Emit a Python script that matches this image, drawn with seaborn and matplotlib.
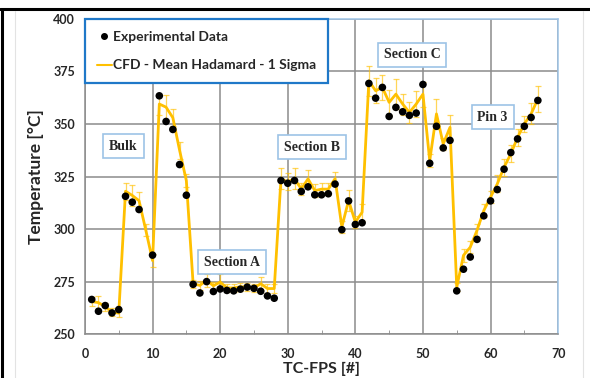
import matplotlib
matplotlib.use("Agg")
import matplotlib.pyplot as plt
import numpy as np
import pandas as pd
import seaborn as sns
from matplotlib.lines import Line2D
from matplotlib.ticker import MultipleLocator

# thermocouple index along the FPS
tc_index = list(range(1, 68))

# measured temperatures (no reading at TC 9)
exp_temp = [
    266.5, 260.9, 263.6, 260.1, 261.7, 315.6, 312.8, 309.3, np.nan, 287.6,
    363.4, 351.2, 347.4, 330.7, 316.1, 273.7, 269.6, 275.0, 270.3, 271.5,
    270.8, 270.6, 271.4, 272.4, 271.8, 270.4, 268.2, 267.1, 323.1, 321.8,
    323.1, 317.9, 320.1, 316.3, 316.3, 316.8, 321.4, 299.7, 313.4, 302.2,
    303.0, 369.3, 362.3, 367.4, 353.6, 357.9, 355.8, 354.1, 355.2, 368.8,
    331.3, 348.9, 338.6, 342.2, 270.6, 280.9, 286.7, 295.1, 306.3, 313.4,
    318.8, 328.5, 336.4, 342.9, 348.9, 353.1, 361.2,
]

# CFD mean (Hadamard) and 1 sigma
cfd_mean = [
    265.5, 265.0, 263.0, 260.5, 260.0, 318.0, 316.0, 313.5, 299.5, 285.0,
    359.5, 358.0, 353.0, 337.5, 323.0, 274.0, 273.2, 275.6, 273.0, 274.8,
    272.0, 272.0, 272.5, 272.5, 272.0, 274.0, 271.7, 271.7, 323.9, 322.5,
    323.9, 319.1, 323.9, 318.3, 319.0, 319.0, 324.0, 301.0, 313.6, 303.3,
    308.0, 370.5, 365.8, 367.4, 360.3, 364.2, 359.5, 355.5, 359.5, 364.2,
    332.6, 354.8, 340.5, 348.4, 272.4, 287.5, 291.4, 299.4, 308.8, 315.2,
    321.5, 329.4, 335.8, 343.6, 350.0, 354.8, 361.9,
]
cfd_sigma = [
    2, 3, 2, 2, 2, 4, 5, 4, 3, 3,
    5, 6, 4, 4, 3, 2, 2, 3, 2, 4,
    2, 2, 2, 2, 2, 3, 2, 2, 5, 4,
    5, 3, 4, 3, 3, 3, 3, 3, 5, 3,
    4, 7, 6, 6, 6, 7, 5, 5, 6, 6,
    3, 7, 3, 6, 2, 3, 3, 3, 3, 3,
    4, 4, 4, 4, 4, 5, 6,
]

# region labels and where they sit (data coords)
region_names = ["Bulk", "Section A", "Section B", "Section C", "Pin 3"]
region_x = [5.7, 21.8, 33.6, 48.4, 60.3]
region_y = [339.5, 284.3, 339.0, 382.9, 353.3]


def main() -> None:
    sns.set_style("white")
    plt.rcParams["font.family"] = ["Lato", "DejaVu Sans"]

    df = pd.DataFrame({
        "tc": tc_index,
        "exp": exp_temp,
        "cfd": cfd_mean,
        "sigma": cfd_sigma,
    })

    gold = "#FFC000"
    fig, ax = plt.subplots(figsize=(5.9, 3.78), dpi=100)
    fig.subplots_adjust(left=0.144, right=0.946, top=0.95, bottom=0.116)

    # CFD band as error bars + line
    ax.errorbar(df["tc"], df["cfd"], yerr=df["sigma"], fmt="none",
                ecolor=gold, alpha=0.65, elinewidth=0.9, capsize=2, capthick=0.9, zorder=2)
    sns.lineplot(data=df, x="tc", y="cfd", color=gold, linewidth=2, ax=ax, zorder=2)
    sns.scatterplot(data=df, x="tc", y="exp", color="black", s=30, edgecolor="none",
                    ax=ax, zorder=3)

    ax.set_xlim(0, 70)
    ax.set_ylim(250, 400)
    ax.xaxis.set_major_locator(MultipleLocator(10))
    ax.xaxis.set_minor_locator(MultipleLocator(5))
    ax.yaxis.set_major_locator(MultipleLocator(25))
    ax.grid(True, which="major", color="#8c8c8c", linewidth=1.1)
    ax.set_axisbelow(True)

    ax.tick_params(axis="both", which="major", length=0, labelsize=9)
    ax.tick_params(axis="x", which="major", pad=10)
    ax.tick_params(axis="y", which="major", pad=7)
    ax.tick_params(axis="x", which="minor", direction="in", length=3, color="#8c8c8c", bottom=True)
    for lbl in ax.get_xticklabels() + ax.get_yticklabels():
        lbl.set_fontweight("bold")

    for side in ["left", "bottom"]:
        ax.spines[side].set_color("#8c8c8c")
        ax.spines[side].set_linewidth(1.1)
    for side in ["top", "right"]:
        ax.spines[side].set_color("#9DC3E6")
        ax.spines[side].set_linewidth(1.1)

    ax.set_xlabel("TC-FPS [#]", fontsize=11.5, fontweight="bold", labelpad=1)
    ax.set_ylabel("Temperature [°C]", fontsize=12.5, fontweight="bold", labelpad=7)

    for name, xx, yy in zip(region_names, region_x, region_y):
        ax.text(xx, yy, name, ha="center", va="center", fontsize=10, fontweight="bold",
                family=["Liberation Serif", "DejaVu Serif"], zorder=4,
                bbox=dict(boxstyle="square,pad=0.42", fc="white", ec="#9DC3E6", lw=1.2))

    handles = [
        Line2D([], [], linestyle="none", marker="o", color="black", markersize=4),
        Line2D([], [], color=gold, linewidth=1.5),
    ]
    leg = ax.legend(handles, ["Experimental Data", "CFD - Mean Hadamard - 1 Sigma"],
                    loc="upper left", bbox_to_anchor=(0, 1, 0.514, 0), mode="expand",
                    borderaxespad=0, fancybox=False, framealpha=1, handlelength=1.1,
                    handletextpad=0.1, labelspacing=1.2, borderpad=0.85,
                    prop={"weight": "bold", "size": 10})
    leg.get_frame().set_edgecolor("#1F78C8")
    leg.get_frame().set_linewidth(1.6)
    leg.set_zorder(5)

    # page frame around the figure
    fig.add_artist(Line2D([0, 1], [0.975, 0.975], color="black", linewidth=2.2))
    fig.add_artist(Line2D([0.003, 0.003], [0, 0.975], color="black", linewidth=2.2))
    fig.add_artist(Line2D([0.026, 0.026], [0, 0.972], color="#e3e3e3", linewidth=0.8))
    fig.add_artist(Line2D([0.988, 0.988], [0, 0.972], color="#e3e3e3", linewidth=0.8))

    fig.savefig("out.png", dpi=100)
    plt.close(fig)


if __name__ == "__main__":
    main()
